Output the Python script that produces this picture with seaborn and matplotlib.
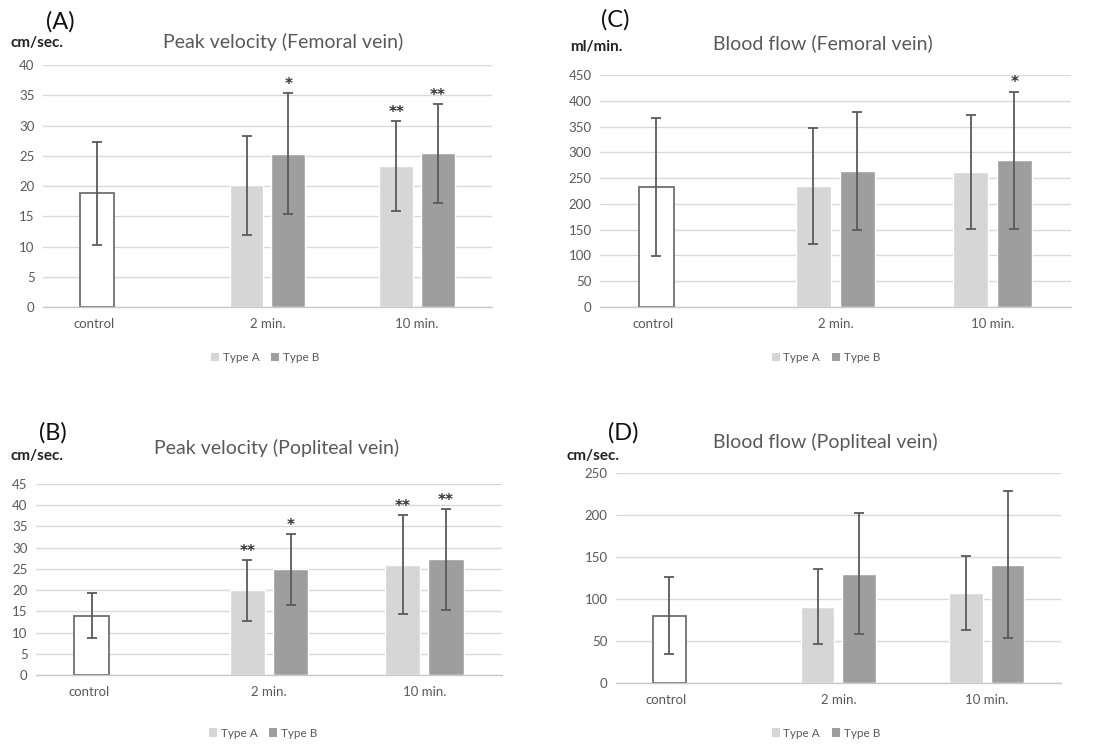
import matplotlib
matplotlib.use("Agg")
import matplotlib.pyplot as plt
from matplotlib.patches import Patch
import seaborn as sns
import pandas as pd

sns.set_theme(style="white")
plt.rcParams['font.family'] = ['Lato', 'DejaVu Sans']

# ---------------- data ----------------
categories = ["control", "2 min.", "10 min."]
series_names = ["Type A", "Type B"]

# Panel A: Peak velocity (Femoral vein), cm/sec.
pvf_mean_A = [18.8, 20.1, 23.3]   # control, 2 min, 10 min (control shown as white bar)
pvf_sd_A = [8.5, 8.2, 7.4]
pvf_mean_B = [25.3, 25.4]          # 2 min, 10 min
pvf_sd_B = [10.0, 8.2]
pvf_star_A = ["", "", "**"]
pvf_star_B = ["*", "**"]

# Panel B: Peak velocity (Popliteal vein), cm/sec.
pvp_mean_A = [13.9, 20.0, 26.0]
pvp_sd_A = [5.3, 7.2, 11.7]
pvp_mean_B = [24.9, 27.3]
pvp_sd_B = [8.3, 11.9]
pvp_star_A = ["", "**", "**"]
pvp_star_B = ["*", "**"]

# Panel C: Blood flow (Femoral vein), ml/min.
bff_mean_A = [232, 235, 262]
bff_sd_A = [134, 112, 111]
bff_mean_B = [264, 285]
bff_sd_B = [115, 133]
bff_star_A = ["", "", ""]
bff_star_B = ["", "*"]

# Panel D: Blood flow (Popliteal vein)
bfp_mean_A = [80, 91, 107]
bfp_sd_A = [46, 45, 44]
bfp_mean_B = [130, 141]
bfp_sd_B = [72, 88]
bfp_star_A = ["", "", ""]
bfp_star_B = ["", ""]

yticks_A = list(range(0, 41, 5))
yticks_B = list(range(0, 46, 5))
yticks_C = list(range(0, 451, 50))
yticks_D = list(range(0, 251, 50))

panels = [
    dict(tag="(A)", title="Peak velocity (Femoral vein)", unit="cm/sec.",
         mA=pvf_mean_A, sA=pvf_sd_A, mB=pvf_mean_B, sB=pvf_sd_B,
         stA=pvf_star_A, stB=pvf_star_B, yt=yticks_A,
         rect=[0.0392, 0.5879, 0.4097, 0.3248],
         tagpos=(0.0547, 0.9705), unitpos=(0.0338, 0.942), titlepos=(0.258, 0.9436),
         legpos=(0.2418, 0.5195)),
    dict(tag="(C)", title="Blood flow (Femoral vein)", unit="ml/min.",
         mA=bff_mean_A, sA=bff_sd_A, mB=bff_mean_B, sB=bff_sd_B,
         stA=bff_star_A, stB=bff_star_B, yt=yticks_C,
         rect=[0.5474, 0.5879, 0.4298, 0.3114],
         tagpos=(0.561, 0.973), unitpos=(0.5438, 0.937), titlepos=(0.751, 0.942),
         legpos=(0.7536, 0.5195)),
    dict(tag="(B)", title="Peak velocity (Popliteal vein)", unit="cm/sec.",
         mA=pvp_mean_A, sA=pvp_sd_A, mB=pvp_mean_B, sB=pvp_sd_B,
         stA=pvp_star_A, stB=pvp_star_B, yt=yticks_B,
         rect=[0.0328, 0.094, 0.4252, 0.2564],
         tagpos=(0.0484, 0.4188), unitpos=(0.0338, 0.388), titlepos=(0.2527, 0.3987),
         legpos=(0.24, 0.0161)),
    dict(tag="(D)", title="Blood flow (Popliteal vein)", unit="cm/sec.",
         mA=bfp_mean_A, sA=bfp_sd_A, mB=bfp_mean_B, sB=bfp_sd_B,
         stA=bfp_star_A, stB=bfp_star_B, yt=yticks_D,
         rect=[0.562, 0.0832, 0.406, 0.2819],
         tagpos=(0.5684, 0.4188), unitpos=(0.541, 0.388), titlepos=(0.7527, 0.4067),
         legpos=(0.7536, 0.0161)),
]

COL_A = "#d6d6d6"
COL_B = "#9e9e9e"
TXT = "#595959"
GRID = "#d9d9d9"
ERR = "#5a5a5a"

fig = plt.figure(figsize=(10.96, 7.45), dpi=100)

for p in panels:
    ax = fig.add_axes(p["rect"])
    rows = []
    for c, m, s, st in zip(categories, p["mA"], p["sA"], p["stA"]):
        rows.append(dict(time=c, series="Type A", mean=m, sd=s, star=st))
    for c, m, s, st in zip(categories[1:], p["mB"], p["sB"], p["stB"]):
        rows.append(dict(time=c, series="Type B", mean=m, sd=s, star=st))
    df = pd.DataFrame(rows)

    sns.barplot(data=df, x="time", y="mean", hue="series", order=categories,
                hue_order=series_names, palette=[COL_A, COL_B], width=0.56, gap=0.19,
                errorbar=None, legend=False, ax=ax, zorder=2)

    ymax = p["yt"][-1]
    for cont, h in zip(ax.containers, series_names):
        sub = df[df["series"] == h].reset_index(drop=True)
        for bar, (_, r) in zip(cont.patches, sub.iterrows()):
            xc = bar.get_x() + bar.get_width() / 2
            if r["time"] == "control":
                bar.set_facecolor("white")
                bar.set_edgecolor("#6f6f6f")
                bar.set_linewidth(1.3)
            ax.errorbar(xc, r["mean"], yerr=r["sd"], fmt="none", ecolor=ERR,
                        elinewidth=1.3, capsize=3.5, capthick=1.3, zorder=3)
            if r["star"]:
                ax.text(xc, r["mean"] + r["sd"] + ymax * 0.005, r["star"],
                        ha="center", va="bottom", fontsize=11, fontweight="bold",
                        color="#333333", family="DejaVu Sans")

    ax.set_xlim(-0.5, 2.5)
    ax.set_ylim(0, ymax)
    ax.set_yticks(p["yt"])
    ax.set_yticklabels([str(v) for v in p["yt"]], fontsize=9.5, color=TXT)
    ax.set_xticks([-0.16, 1, 2])
    ax.set_xticklabels(categories, fontsize=9.5, color=TXT)
    ax.tick_params(axis="x", length=0, pad=8)
    ax.tick_params(axis="y", length=0, pad=6)
    ax.set_xlabel("")
    ax.set_ylabel("")
    ax.grid(axis="y", color=GRID, linewidth=1.0, zorder=0)
    ax.set_axisbelow(True)
    for side in ["left", "right", "top"]:
        ax.spines[side].set_visible(False)
    ax.spines["bottom"].set_color("#c8c8c8")
    ax.spines["bottom"].set_linewidth(1.0)
    ax.spines["bottom"].set_zorder(4)

    fig.text(*p["tagpos"], p["tag"], ha="center", va="center", fontsize=17, color="#111111")
    fig.text(*p["unitpos"], p["unit"], ha="center", va="center", fontsize=11,
             fontweight="bold", color="#222222")
    fig.text(*p["titlepos"], p["title"], ha="center", va="center", fontsize=14, color=TXT)

    handles = [Patch(facecolor=COL_A, edgecolor="none", label="Type A"),
               Patch(facecolor=COL_B, edgecolor="none", label="Type B")]
    fig.legend(handles=handles, loc="center", bbox_to_anchor=p["legpos"], ncol=2,
               frameon=False, fontsize=8.5, handlelength=0.7, handleheight=0.7,
               handletextpad=0.3, columnspacing=1.0, labelcolor=TXT)

fig.savefig("out.png", dpi=100, facecolor="white")
